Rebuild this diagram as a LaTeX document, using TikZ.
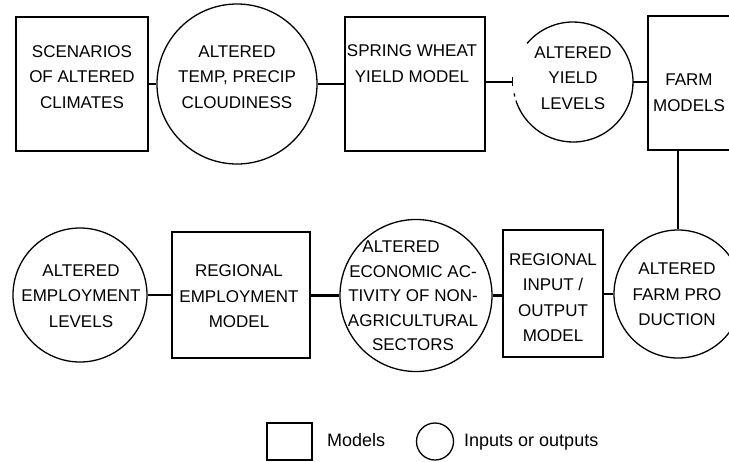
\documentclass[tikz,border=0pt]{standalone}
\usepackage{fontspec}
\setmainfont{Liberation Sans}
\begin{document}
\begin{tikzpicture}[x=1pt,y=-1pt,
  txt/.style={font=\fontsize{17}{25.5}\selectfont, align=center, inner sep=0pt},
  tighttxt/.style={font=\fontsize{17}{24.5}\selectfont, align=center, inner sep=0pt},
  legtxt/.style={font=\fontsize{18}{20}\selectfont, inner sep=0pt, anchor=base west},
  modelbox/.style={draw, line width=1.3pt, rectangle, inner sep=0pt},
  iobox/.style={draw, line width=1.3pt, circle, inner sep=0pt},
  conn/.style={line width=2.4pt},
  vconn/.style={line width=2.8pt}]
\useasboundingbox (0,0) rectangle (729,461);
\clip (0,0) rectangle (729,461);

% ---- top row ----
\node[modelbox, minimum width=132pt, minimum height=134pt] (b1) at (82,84) {};
\node[iobox, minimum size=160pt] (c1) at (237,84) {};
\node[modelbox, minimum width=140pt, minimum height=134pt] (b2) at (415,84) {};
\node[circle, inner sep=0pt, minimum size=120pt] (c2) at (573,82) {};
\draw[line width=1.3pt] ([shift={(162:60)}]c2.center) arc[start angle=162, end angle=-140, radius=60];
\draw[line width=1.3pt] ([shift={(166:60)}]c2.center) -- ([shift={(169:60)}]c2.center);
\node[modelbox, minimum width=92pt, minimum height=134pt] (b3) at (694,83) {};

\node[txt] (t1) at (82,77) {SCENARIOS\\OF ALTERED\\CLIMATES};
\node[txt] (t2) at (237,77) {ALTERED\\TEMP, PRECIP\\CLOUDINESS};
\node[txt] (t3) at (412,63.5) {SPRING WHEAT\\YIELD MODEL};
\node[txt] (t4) at (573,78) {ALTERED\\YIELD\\LEVELS};
\node[txt] (t5) at (689,92.5) {FARM\\MODELS};

% ---- bottom row ----
\node[iobox, minimum size=134pt] (c4) at (80,295) {};
\node[modelbox, minimum width=138pt, minimum height=126pt] (b4) at (241,295) {};
\node[iobox, minimum size=152pt] (c5) at (416,295.5) {};
\node[modelbox, minimum width=100pt, minimum height=127pt] (b5) at (553,293.5) {};
\node[iobox, minimum size=128pt] (c6) at (678,294) {};

\node[txt] (t6) at (81,296) {ALTERED\\EMPLOYMENT\\LEVELS};
\node[txt] (t7) at (239,296.5) {REGIONAL\\EMPLOYMENT\\MODEL};
\node[tighttxt] (t8) at (413,296) {ALTERED\hspace*{24pt}\\ECONOMIC AC-\\TIVITY OF NON-\\AGRICULTURAL\\SECTORS};
\node[txt] (t9) at (553,297.5) {REGIONAL\\INPUT /\\OUTPUT\\MODEL};
\node[txt] (t10) at (677,294.5) {ALTERED\\FARM PRO\\DUCTION};

% ---- connectors ----
\draw[conn] (b1.east |- c1.west) -- (c1.west);
\draw[conn] (c1.east) -- (c1.east -| b2.west);
\draw[conn] (b2.east |- c2.west) -- (c2.west);
\draw[line width=1.3pt] ([yshift=-4pt]c2.west) -- ([yshift=5pt]c2.west);
\draw[conn] (c2.east) -- (c2.east -| b3.west);
\draw[vconn] (c6.north |- b3.south) -- (c6.north);
\draw[conn] (c6.west) -- (c6.west -| b5.east);
\draw[conn] (b5.west |- c5.east) -- (c5.east);
\draw[conn] (c5.west) -- (c5.west -| b4.east);
\draw[conn] (b4.west |- c4.east) -- (c4.east);

% ---- legend ----
\node[modelbox, minimum width=45pt, minimum height=37pt] (lsq) at (289.5,441.5) {};
\node[legtxt] (lmod) at (327,446.5) {Models};
\node[iobox, minimum size=37pt] (lci) at (435,441.5) {};
\node[legtxt] (lio) at (464,446.5) {Inputs or outputs};
\end{tikzpicture}
\end{document}
